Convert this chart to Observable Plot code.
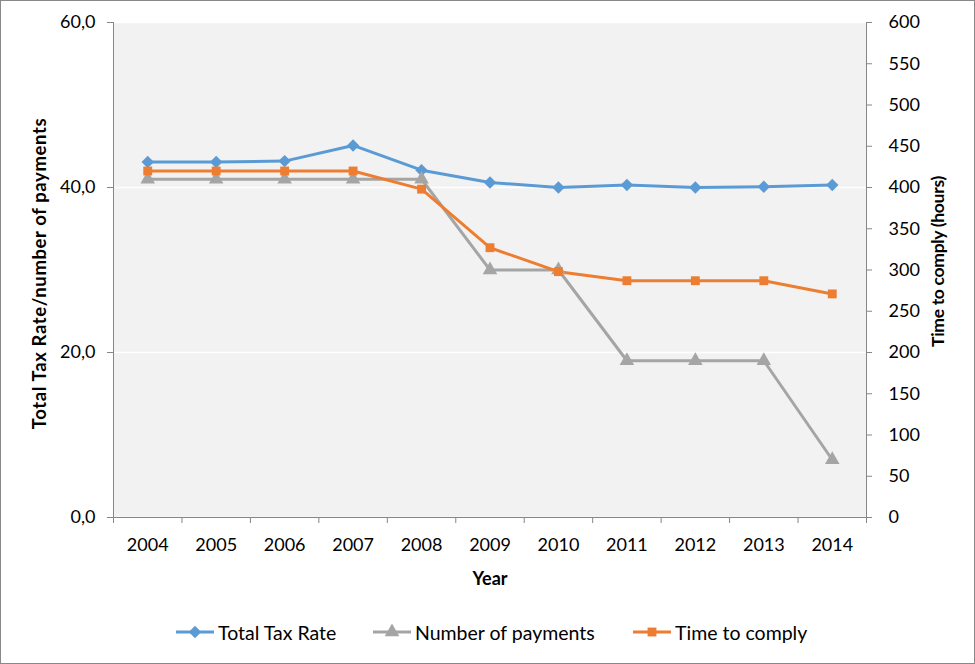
<!DOCTYPE html>
<html><head><meta charset="utf-8">
<script src="https://cdn.jsdelivr.net/npm/d3@7"></script>
<script src="https://cdn.jsdelivr.net/npm/@observablehq/plot@0.6"></script>
<style>
body{margin:0;background:#fff;}
#wrap{width:975px;height:664px;position:relative;font-family:Lato,sans-serif;overflow:hidden;background:#fff}
#border{position:absolute;left:0;top:0;width:975px;height:664px;box-sizing:border-box;border:1px solid #898989;pointer-events:none}
#chart{position:absolute;left:0;top:0}
.leg{position:absolute;top:620px;height:24px;display:flex;align-items:center;font-size:19.5px;color:#000;white-space:nowrap}
.leg svg{margin-right:3px}
</style></head><body>
<div id="wrap"><div id="chart"></div><div id="legend"></div><div id="border"></div></div>
<script>
const years = [2004, 2005, 2006, 2007, 2008, 2009, 2010, 2011, 2012, 2013, 2014];
const totalTaxRate = [43.1, 43.1, 43.2, 45.1, 42.1, 40.6, 40.0, 40.3, 40.0, 40.1, 40.3];
const numberOfPayments = [41, 41, 41, 41, 41, 30, 30, 19, 19, 19, 7];
const timeToComply = [420, 420, 420, 420, 398, 327, 298, 287, 287, 287, 271];
const seriesNames = ["Total Tax Rate", "Number of payments", "Time to comply"];
const seriesColors = ["#5b9bd5", "#a5a5a5", "#ed7d31"];
const seriesSymbols = ["diamond2", "triangle", "square"];
const leftTicks = [0, 20, 40, 60];
const rightTicks = [0, 50, 100, 150, 200, 250, 300, 350, 400, 450, 500, 550, 600];
const rightToLeft = 10; // right axis (hours) = left axis value * 10

const seriesData = [
  years.map((year, i) => ({year, value: totalTaxRate[i]})),
  years.map((year, i) => ({year, value: numberOfPayments[i]})),
  years.map((year, i) => ({year, value: timeToComply[i] / rightToLeft}))
];
const bandEdges = d3.range(years[0] - 0.5, years[years.length - 1] + 1, 1);
const axisColor = "#868686";
const symbolR = [5.6, 5.4, 5.0];

const marks = [
  Plot.frame({fill: "#f2f2f2", stroke: null}),
  Plot.gridY(leftTicks, {stroke: "#ffffff", strokeOpacity: 1, strokeWidth: 1.5}),
  Plot.axisY(leftTicks, {anchor: "left", tickFormat: d => d.toFixed(1).replace(".", ","), tickSize: 6, tickPadding: 12, stroke: axisColor, fill: "#000", fontSize: 18, label: null}),
  Plot.axisY(rightTicks.map(d => d / rightToLeft), {anchor: "right", tickFormat: d => String(Math.round(d * rightToLeft)), tickSize: 5, tickPadding: 17, stroke: axisColor, fill: "#000", fontSize: 18, label: null}),
  Plot.axisX(bandEdges, {anchor: "bottom", tickFormat: () => "", tickSize: 6, stroke: axisColor, label: null}),
  Plot.axisX(years, {anchor: "bottom", tickFormat: d => String(d), tickSize: 0, tickPadding: 21, fill: "#000", fontSize: 18, label: null}),
  Plot.ruleX([bandEdges[0], bandEdges[bandEdges.length - 1]], {stroke: axisColor, strokeWidth: 1}),
  Plot.ruleY([0], {stroke: axisColor, strokeWidth: 1}),
  Plot.text(["Year"], {frameAnchor: "bottom", dy: 67, fontWeight: "bold", fontSize: 18, fill: "#000"}),
  Plot.text(["Total Tax Rate/number of payments"], {frameAnchor: "left", textAnchor: "middle", lineAnchor: "middle", dx: -73, dy: 3.5, rotate: -90, fontWeight: "bold", fontSize: 18.5, fill: "#000", className: "ttl-left"}),
  Plot.text(["Time to comply (hours)"], {frameAnchor: "right", textAnchor: "middle", lineAnchor: "middle", dx: 72, dy: -8.5, rotate: -90, fontWeight: "bold", fontSize: 17.5, fill: "#000", className: "ttl-right"})
];
seriesData.forEach((data, k) => {
  marks.push(Plot.line(data, {x: "year", y: "value", stroke: seriesColors[k], strokeWidth: 3, strokeLinejoin: "round"}));
});
seriesData.forEach((data, k) => {
  marks.push(Plot.dot(data, {x: "year", y: "value", symbol: () => seriesSymbols[k], fill: seriesColors[k], stroke: "none", r: symbolR[k]}));
});

const chart = Plot.plot({
  width: 975,
  height: 600,
  marginLeft: 113,
  marginRight: 109,
  marginTop: 22,
  marginBottom: 83,
  style: {fontFamily: "Lato, sans-serif", background: "transparent", overflow: "visible"},
  x: {type: "linear", domain: [bandEdges[0], bandEdges[bandEdges.length - 1]]},
  y: {domain: [0, 60]},
  symbol: {type: "identity"},
  marks
});
d3.select(chart).selectAll(".ttl-left text").style("letter-spacing", "0.6px");
d3.select(chart).selectAll(".ttl-right text").style("letter-spacing", "-0.3px");
document.getElementById("chart").appendChild(chart);

// Legend
const legendLefts = [175, 372, 632];
const legend = document.getElementById("legend");
seriesNames.forEach((name, k) => {
  const item = document.createElement("div");
  item.className = "leg";
  item.style.left = legendLefts[k] + "px";
  const svg = d3.create("svg").attr("width", 40).attr("height", 24);
  svg.append("line").attr("x1", 1).attr("x2", 39).attr("y1", 12).attr("y2", 12)
    .attr("stroke", seriesColors[k]).attr("stroke-width", 3);
  const symType = [d3.symbolDiamond2, d3.symbolTriangle, d3.symbolSquare][k];
  svg.append("path").attr("transform", "translate(20,12)")
    .attr("d", d3.symbol(symType, Math.PI * symbolR[k] * symbolR[k])())
    .attr("fill", seriesColors[k]);
  item.appendChild(svg.node());
  const span = document.createElement("span");
  span.textContent = name;
  item.appendChild(span);
  legend.appendChild(item);
});
</script>
</body></html>
